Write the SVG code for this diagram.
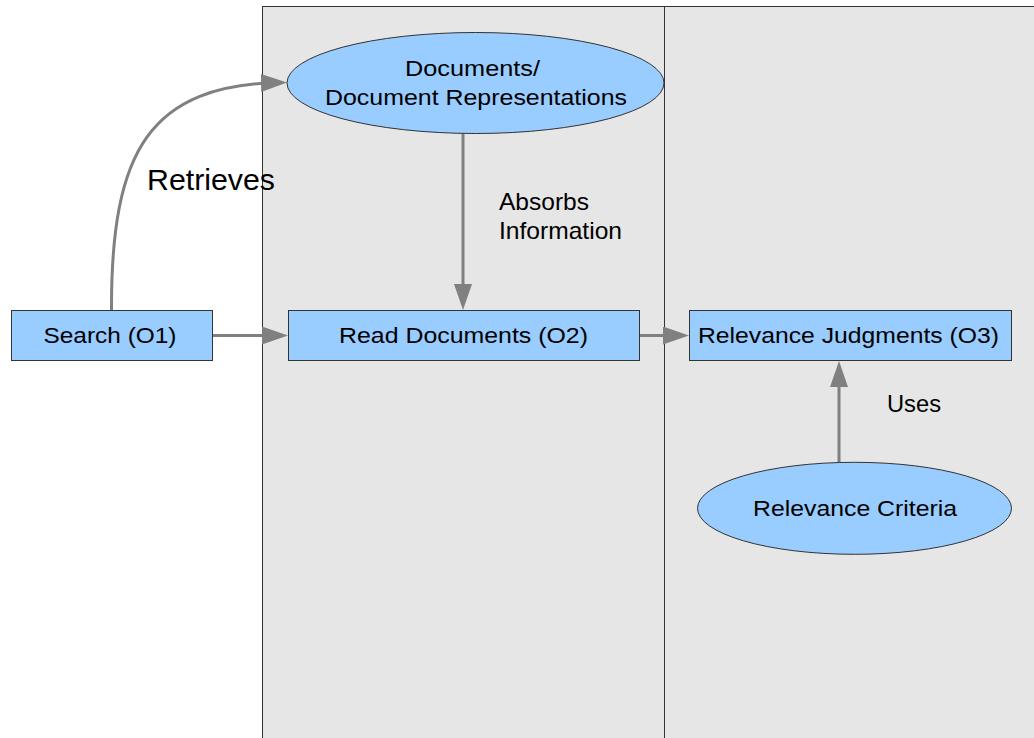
<svg xmlns="http://www.w3.org/2000/svg" width="1034" height="738" viewBox="0 0 1034 738">
<defs>
<style>
.bg{fill:#e6e6e6;stroke:#333;stroke-width:1}
.div{stroke:#333;stroke-width:1}
.node{fill:#99ccff;stroke:#333;stroke-width:1}
.t{font-family:"Liberation Sans",Arial,sans-serif;font-size:22.5px;fill:#000}
.lbl{font-family:"Liberation Sans",Arial,sans-serif;font-size:24px;fill:#000}
.big{font-family:"Liberation Sans",Arial,sans-serif;font-size:29px;fill:#000}
.edge{fill:none;stroke:#808080;stroke-width:3}
</style>
<marker id="arr" markerUnits="userSpaceOnUse" markerWidth="26" markerHeight="18" refX="20" refY="9" orient="auto">
<path d="M0,0 L26,9 L0,18 z" fill="#808080"/>
</marker>
</defs>
<rect width="1034" height="738" fill="#ffffff"/>
<g id="lanes">
<rect class="bg" x="262.5" y="6.5" width="790" height="750"/>
<line class="div" x1="664.5" y1="6.5" x2="664.5" y2="738"/>
</g>
<g id="connectors">
<path class="edge" d="M111.5,310 C111,150 150,85 281,82.5" marker-end="url(#arr)"/>
<path class="edge" d="M212,335.5 L282,335.5" marker-end="url(#arr)"/>
<path class="edge" d="M639,335.5 L683,335.5" marker-end="url(#arr)"/>
<path class="edge" d="M463,133.5 L463,304" marker-end="url(#arr)"/>
<path class="edge" d="M839,462 L839,367" marker-end="url(#arr)"/>
<text class="big" x="147" y="190" textLength="128" lengthAdjust="spacingAndGlyphs">Retrieves</text>
<text class="lbl" x="499" y="210" textLength="90" lengthAdjust="spacingAndGlyphs">Absorbs</text>
<text class="lbl" x="499" y="239" textLength="123" lengthAdjust="spacingAndGlyphs">Information</text>
<text class="lbl" x="887" y="412" textLength="54" lengthAdjust="spacingAndGlyphs">Uses</text>
</g>
<g id="docs">
<ellipse class="node" cx="475.5" cy="83" rx="188.5" ry="50.5"/>
<text class="t" x="405" y="76" textLength="135" lengthAdjust="spacingAndGlyphs">Documents/</text>
<text class="t" x="325" y="105" textLength="302" lengthAdjust="spacingAndGlyphs">Document Representations</text>
</g>
<g id="search">
<rect class="node" x="11.5" y="310.5" width="201" height="50"/>
<text class="t" x="43.5" y="343" textLength="133" lengthAdjust="spacingAndGlyphs">Search (O1)</text>
</g>
<g id="read">
<rect class="node" x="288.5" y="310.5" width="351" height="50"/>
<text class="t" x="339" y="343" textLength="249" lengthAdjust="spacingAndGlyphs">Read Documents (O2)</text>
</g>
<g id="judgments">
<rect class="node" x="689.5" y="310.5" width="322" height="50"/>
<text class="t" x="698" y="343" textLength="301" lengthAdjust="spacingAndGlyphs">Relevance Judgments (O3)</text>
</g>
<g id="criteria">
<ellipse class="node" cx="854.5" cy="508.3" rx="157" ry="46"/>
<text class="t" x="753" y="516" textLength="204" lengthAdjust="spacingAndGlyphs">Relevance Criteria</text>
</g>
</svg>
